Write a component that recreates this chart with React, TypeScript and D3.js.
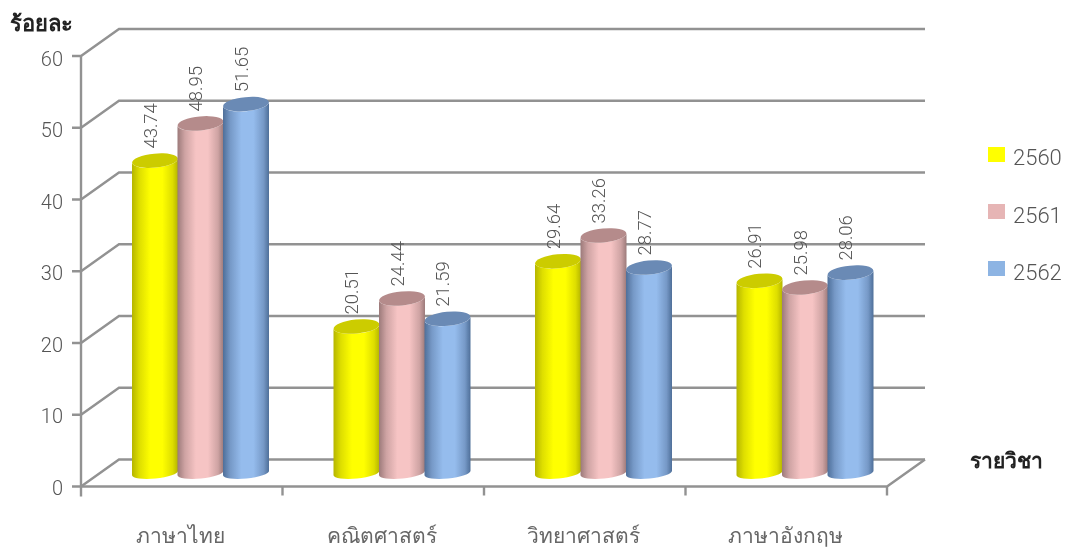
import React from "react";
import * as d3 from "d3";

const categories = ["ภาษาไทย", "คณิตศาสตร์", "วิทยาศาสตร์", "ภาษาอังกฤษ"];
const seriesNames = ["2560", "2561", "2562"];
const values2560 = [43.74, 20.51, 29.64, 26.91];
const values2561 = [48.95, 24.44, 33.26, 25.98];
const values2562 = [51.65, 21.59, 28.77, 28.06];
const yTicks = [0, 10, 20, 30, 40, 50, 60];

const seriesValues = [values2560, values2561, values2562];
const light = ["#ffff00", "#f6c4c4", "#95bced"];
const dark = ["#b5b500", "#9c7a7a", "#4f6f99"];
const topFill = ["#cccc00", "#b58b8b", "#6a8ab5"];
const legendFill = ["#ffff00", "#e6b5b5", "#8db4e3"];

const GRID = "#929292";
const TEXT = "#555555";
const NUM_FONT = "Roboto, 'Open Sans', sans-serif";
const FONT = "'DejaVu Sans', 'Noto Sans', sans-serif";
const DX = 38;
const DY = 27;
const RX = 23;
const RY = 7;
const TILT = -5.5;

const yFront = d3.scaleLinear().domain([0, 60]).range([486.5, 56]);
const yBar = d3.scaleLinear().domain([0, 60]).range([473, 44.5]);
const xBand = d3.scaleBand<string>().domain(categories).range([81, 887]);
const xInner = d3.scaleBand<string>().domain(seriesNames).range([-68.5, 68]);
const legendY = d3.scalePoint<string>().domain(seriesNames).range([155, 269]);

export default function App() {
  const xRight = xBand.range()[1];
  const xLeft = xBand.range()[0];
  const step = xBand.step();
  const tickXs = d3.range(categories.length + 1).map((i) => xLeft + i * step);
  const dyTilt = RX * Math.tan((-TILT * Math.PI) / 180);
  return (
    <svg
      width={1067}
      height={552}
      style={{ position: "absolute", left: 0, top: 0, background: "#fff" }}
      fontFamily={FONT}
    >
      <defs>
        {seriesNames.map((s, i) => (
          <linearGradient key={s} id={`g${i}`} x1="0" x2="1" y1="0" y2="0">
            <stop offset="0" stopColor={dark[i]} />
            <stop offset="0.16" stopColor={d3.interpolateRgb(dark[i], light[i])(0.55)} />
            <stop offset="0.4" stopColor={light[i]} />
            <stop offset="0.66" stopColor={light[i]} />
            <stop offset="0.88" stopColor={d3.interpolateRgb(dark[i], light[i])(0.55)} />
            <stop offset="1" stopColor={dark[i]} />
          </linearGradient>
        ))}
        <filter id="soft" x="-5%" y="-5%" width="110%" height="110%">
          <feGaussianBlur stdDeviation="0.5" />
        </filter>
      </defs>

      <g filter="url(#soft)">
        <g stroke={GRID} strokeWidth={2.4} fill="none">
          {yTicks.map((t) => {
            const y = yFront(t);
            return (
              <path
                key={t}
                d={`M${xLeft - 9},${y}H${xLeft}L${xLeft + DX},${y - DY}H${xRight + DX}`}
              />
            );
          })}
          <path d={`M${xLeft},${yFront(60)}V${yFront(0) + 10}`} />
          <path d={`M${xLeft},${yFront(0)}H${xRight}L${xRight + DX},${yFront(0) - DY}`} />
          {tickXs.slice(1).map((x) => (
            <path key={x} d={`M${x},${yFront(0)}V${yFront(0) + 9}`} />
          ))}
        </g>

        {categories.map((c, ci) => {
          const cx0 = xBand(c)! + step / 2 + 19;
          return (
            <g key={c}>
              {seriesNames.map((s, si) => {
                const cx = cx0 + xInner(s)! + xInner.bandwidth() / 2;
                const v = seriesValues[si][ci];
                const yt = yBar(v);
                const yb = yBar(0);
                const l = cx - RX;
                const r = cx + RX;
                const body =
                  `M${l},${yt + dyTilt}` +
                  `L${l},${yb + dyTilt}` +
                  `A${RX},${RY - 1.5} ${TILT} 0 0 ${r},${yb - dyTilt}` +
                  `L${r},${yt - dyTilt}` +
                  `A${RX},${RY} ${TILT} 0 1 ${l},${yt + dyTilt}Z`;
                return (
                  <g key={s}>
                    <path d={body} fill={`url(#g${si})`} />
                    <ellipse
                      cx={cx}
                      cy={yt}
                      rx={RX}
                      ry={RY}
                      fill={topFill[si]}
                      transform={`rotate(${TILT} ${cx} ${yt})`}
                    />
                  </g>
                );
              })}
            </g>
          );
        })}

        {categories.map((c, ci) => {
          const cx0 = xBand(c)! + step / 2 + 19;
          return seriesNames.map((s, si) => {
            const cx = cx0 + xInner(s)! + xInner.bandwidth() / 2;
            const v = seriesValues[si][ci];
            const y = yBar(v) - 12;
            return (
              <text
                key={s + c}
                transform={`translate(${cx + 1.5},${y}) rotate(-90)`}
                fontFamily={NUM_FONT}
                fontSize={18.5}
                fontWeight={300}
                fill={TEXT}
              >
                {v.toFixed(2)}
              </text>
            );
          });
        })}

        {yTicks.map((t) => (
          <text
            key={t}
            x={63}
            y={yFront(t) + 8 + (t / 60) * 2}
            textAnchor="end"
            fontFamily={NUM_FONT}
            fontSize={20}
            fontWeight={300}
            fill={TEXT}
          >
            {t}
          </text>
        ))}

        {categories.map((c) => (
          <text
            key={c}
            x={xBand(c)! + step / 2 - 1}
            y={543}
            textAnchor="middle"
            fontSize={21}
            fontWeight={200}
            fill="#666"
          >
            {c}
          </text>
        ))}

        {seriesNames.map((s, i) => {
          const y = legendY(s)!;
          return (
            <g key={s}>
              <rect x={988} y={y - 8} width={17} height={15} fill={legendFill[i]} />
              <text
                x={1013}
                y={y + 10 + i * 0.5}
                fontFamily={NUM_FONT}
                fontSize={22}
                fontWeight={300}
                fill={TEXT}
              >
                {s}
              </text>
            </g>
          );
        })}

        <text x={10} y={31} fontSize={22} fontWeight={700} fill="#222">
          ร้อยละ
        </text>
        <text x={970} y={468} fontSize={21} fontWeight={700} fill="#222">
          รายวิชา
        </text>
      </g>
    </svg>
  );
}
